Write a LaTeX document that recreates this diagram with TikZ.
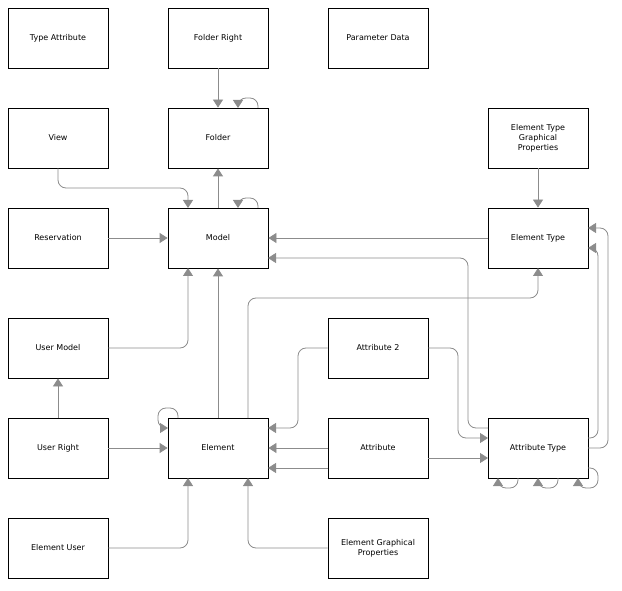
\documentclass[tikz,border=0pt]{standalone}
\usepackage{fontspec}
\setmainfont{DejaVu Sans}
\usetikzlibrary{arrows.meta}
\begin{document}
\begin{tikzpicture}[x=1pt,y=-1pt,
  box/.style={draw=black,line width=0.8pt,minimum width=100pt,minimum height=60pt,align=center,font=\fontsize{8}{10}\selectfont,inner sep=0pt},
  con/.style={draw=gray!90,line width=0.8pt,rounded corners=8pt,-{Triangle[length=8pt,width=10pt]}}]
\useasboundingbox (0,0) rectangle (622,591);
\node[box] (ta) at (58,38) {Type Attribute};
\node[box] (fr) at (218,38) {Folder Right};
\node[box] (pd) at (378,38) {Parameter Data};
\node[box] (view) at (58,138) {View};
\node[box] (folder) at (218,138) {Folder};
\node[box] (etgp) at (538,138) {Element Type\\Graphical\\Properties};
\node[box] (res) at (58,238) {Reservation};
\node[box] (model) at (218,238) {Model};
\node[box] (et) at (538,238) {Element Type};
\node[box] (um) at (58,348) {User Model};
\node[box] (a2) at (378,348) {Attribute 2};
\node[box] (ur) at (58,448) {User Right};
\node[box] (el) at (218,448) {Element};
\node[box] (attr) at (378,448) {Attribute};
\node[box] (at) at (538,448) {Attribute Type};
\node[box] (eu) at (58,548) {Element User};
\node[box] (egp) at (378,548) {Element Graphical\\Properties};

\draw[con] (fr) -- (folder);
\draw[con] (258,108) -- (258,98) -- (238,98) -- (238,108);
\draw[con] (model) -- (folder);
\draw[con] (view) -- (58,188) -- (188,188) -- (188,208);
\draw[con] (258,208) -- (258,198) -- (238,198) -- (238,208);
\draw[con] (res) -- (model);
\draw[con] (et) -- (model);
\draw[con] (488,428) -- (468,428) -- (468,258) -- (268,258);
\draw[con] (etgp) -- (et);
\draw[con] (248,418) -- (248,298) -- (538,298) -- (538,268);
\draw[con] (el) -- (model);
\draw[con] (um) -- (188,348) -- (188,268);
\draw[con] (ur) -- (um);
\draw[con] (178,418) -- (178,408) -- (158,408) -- (158,428) -- (168,428);
\draw[con] (ur) -- (el);
\draw[con] (a2) -- (298,348) -- (298,428) -- (268,428);
\draw[con] (attr) -- (el);
\draw[con] (328,468) -- (268,468);
\draw[con] (a2) -- (458,348) -- (458,438) -- (488,438);
\draw[con] (428,458) -- (488,458);
\draw[con] (588,438) -- (598,438) -- (598,248) -- (588,248);
\draw[con] (588,448) -- (608,448) -- (608,228) -- (588,228);
\draw[con] (518,478) -- (518,488) -- (498,488) -- (498,478);
\draw[con] (558,478) -- (558,488) -- (538,488) -- (538,478);
\draw[con] (588,468) -- (598,468) -- (598,488) -- (578,488) -- (578,478);
\draw[con] (eu) -- (188,548) -- (188,478);
\draw[con] (egp) -- (248,548) -- (248,478);
\end{tikzpicture}
\end{document}
